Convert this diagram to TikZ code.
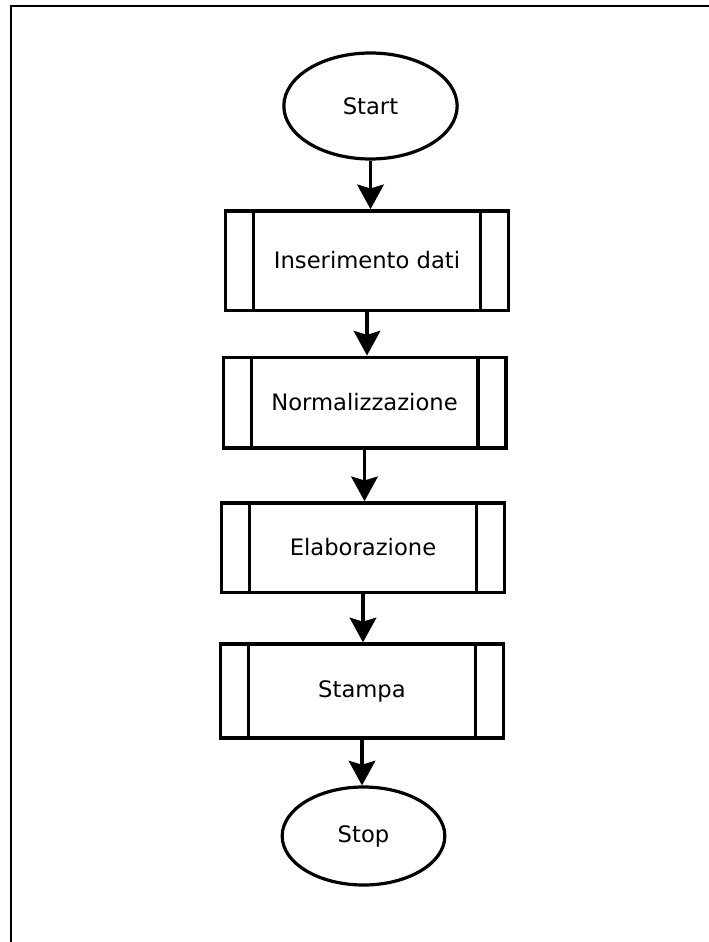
\documentclass[tikz,border=0pt]{standalone}
\usepackage{fontspec}
\setmainfont{DejaVu Sans}
\usetikzlibrary{shapes.geometric,arrows.meta}

% one drawing unit = one pixel (0.75pt), y grows downwards
\tikzset{
  x=0.75pt, y=-0.75pt,
  every node/.style={font=\fontsize{17pt}{20pt}\selectfont},
  terminal/.style={draw, ellipse, line width=2.4pt, inner sep=0pt},
  procbox/.style={draw, rectangle, line width=2.5pt, inner sep=0pt,
    minimum width=212pt,
    path picture={
      \draw[line width=2.5pt]
        ([xshift=21pt]path picture bounding box.north west) --
        ([xshift=21pt]path picture bounding box.south west)
        ([xshift=-21pt]path picture bounding box.north east) --
        ([xshift=-21pt]path picture bounding box.south east);}},
  flow/.style={line width=2.4pt,
    -{Stealth[length=18.5pt, width=20pt, inset=3pt]}},
  frameline/.style={line width=2pt}
}

\begin{document}
\begin{tikzpicture}
\useasboundingbox (0,0) rectangle (709,942);

% page frame (top and left edges)
\draw[frameline] (11,942) -- (11,6) -- (709,6);

\node[terminal, minimum width=130pt, minimum height=79.5pt] (start) at (370.5,106) {Start};
\node[procbox, minimum height=74.5pt] (b1) at (367,260.5) {Inserimento dati};
\node[procbox, minimum height=68pt]   (b2) at (364.5,402.5) {Normalizzazione};
\node[procbox, minimum height=67pt]   (b3) at (363,547.5) {Elaborazione};
\node[procbox, minimum height=70.5pt] (b4) at (362,691) {Stampa};
\node[terminal, minimum width=122pt, minimum height=73.5pt] (stop) at (363.5,836) {Stop};

\draw[flow] (start) -- (start |- b1.north);
\draw[flow] (b1) -- (b1 |- b2.north);
\draw[flow] (b2) -- (b2 |- b3.north);
\draw[flow] (b3) -- (b3 |- b4.north);
\draw[flow] (b4) -- (b4 |- stop.north);
\end{tikzpicture}
\end{document}
